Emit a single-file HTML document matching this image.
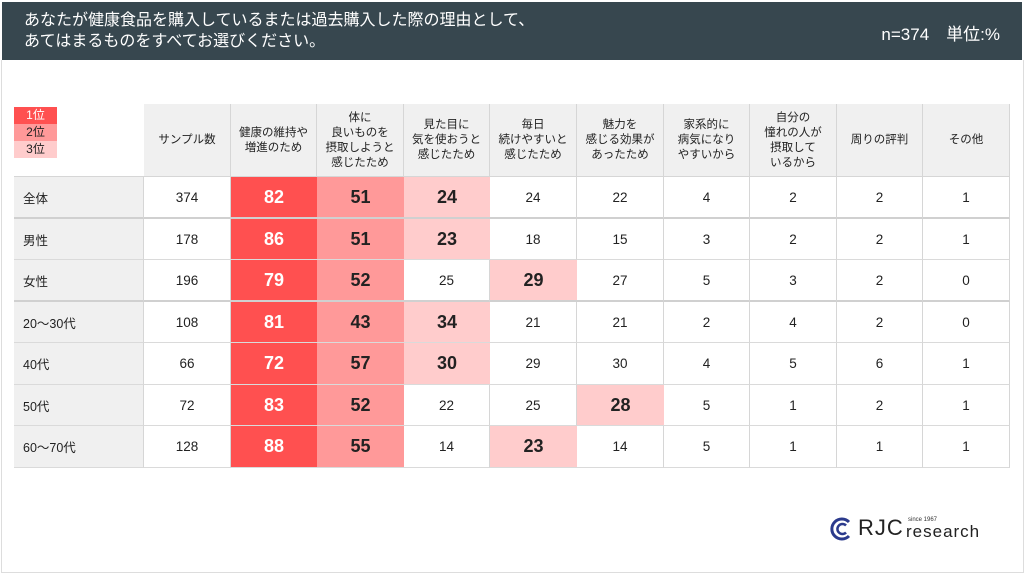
<!DOCTYPE html>
<html><head><meta charset="utf-8">
<style>
body{margin:0;width:1024px;height:574px;background:#fff;position:relative;overflow:hidden;font-family:"Liberation Sans","Noto Sans CJK JP",sans-serif;}
#hdr{position:absolute;left:2px;top:2px;width:1020px;height:58px;background:#37474f;color:#fff;}
#title{position:absolute;left:22px;top:8px;font-size:16px;line-height:21px;}
#n{position:absolute;right:22px;top:18px;font-size:17px;}
.c{position:absolute;display:flex;align-items:center;justify-content:center;text-align:center;box-sizing:border-box;color:#222;border-bottom:1px solid #dadada;}
.h{background:#f0f0f0;font-size:11.5px;line-height:15px;border-right:1px solid #d6d6d6;border-bottom:none;}
.lab{background:#f0f0f0;justify-content:flex-start;padding-left:9px;font-size:12.5px;border-right:1px solid #d6d6d6;}
.v{font-size:13.5px;border-right:1px solid #d6d6d6;}
.lg{position:absolute;left:14px;width:43px;height:17px;font-size:12px;text-align:center;line-height:17px;color:#222;}
#frame{position:absolute;left:1px;top:60px;width:1021px;height:512px;border:1px solid #ddd;border-top:none;}
</style></head><body>
<div id="hdr">
<div id="title">あなたが健康食品を購入しているまたは過去購入した際の理由として、<br>あてはまるものをすべてお選びください。</div>
<div id="n">n=374　単位:%</div>
</div>
<div id="frame"></div>
<div class="lg" style="top:107px;background:#ff5050;color:#fff">1位</div>
<div class="lg" style="top:124px;background:#ff9999">2位</div>
<div class="lg" style="top:141px;background:#ffcccc">3位</div>
<div id="tbl"></div>
<div style="position:absolute;left:830px;top:514px;width:150px;height:30px">
<svg width="24" height="24" viewBox="0 0 24 24" style="position:absolute;left:0;top:3px"><path d="M19 5 A10 10 0 1 0 19 19" fill="none" stroke="#2b3a8c" stroke-width="3"/><path d="M16 8.5 A5 5 0 1 0 16 15.5" fill="none" stroke="#2b3a8c" stroke-width="2.5"/></svg>
<span style="position:absolute;left:28px;top:1px;font-size:22px;color:#222;letter-spacing:1px">RJC</span>
<span style="position:absolute;left:78px;top:3px;font-size:6px;color:#333">since 1967</span>
<span style="position:absolute;left:76px;top:8px;font-size:17px;color:#222;letter-spacing:1px">research</span>
</div>
<script>
const headers=["サンプル数","健康の維持や<br>増進のため","体に<br>良いものを<br>摂取しようと<br>感じたため","見た目に<br>気を使おうと<br>感じたため","毎日<br>続けやすいと<br>感じたため","魅力を<br>感じる効果が<br>あったため","家系的に<br>病気になり<br>やすいから","自分の<br>憧れの人が<br>摂取して<br>いるから","周りの評判","その他"];
const rows=["全体","男性","女性","20～30代","40代","50代","60～70代"];
const samples=[374,178,196,108,66,72,128];
const values=[
[82,51,24,24,22,4,2,2,1],
[86,51,23,18,15,3,2,2,1],
[79,52,25,29,27,5,3,2,0],
[81,43,34,21,21,2,4,2,0],
[72,57,30,29,30,4,5,6,1],
[83,52,22,25,28,5,1,2,1],
[88,55,14,23,14,5,1,1,1]];
const rankColors=["#ff5050","#ff9999","#ffcccc"];
const tbl=document.getElementById('tbl');
const x0=144,cw=86.6,hy=104,hh=73,ry=177,rh=41.5,lx=14;
function cell(cls,x,y,w,h,html,name){const d=document.createElement('div');d.className='c '+cls;d.style.left=x+'px';d.style.top=y+'px';d.style.width=w+'px';d.style.height=h+'px';d.innerHTML=html;


tbl.appendChild(d);return d;}
headers.forEach((t,i)=>cell('h',Math.round(x0+i*cw),hy,Math.round(x0+(i+1)*cw)-Math.round(x0+i*cw),hh,t,'column-header'));
rows.forEach((r,ri)=>{
 const y=Math.round(ry+ri*rh), h=Math.round(ry+(ri+1)*rh)-y;
 const thick=(ri===0||ri===2);
 const cells=[];
 cells.push(cell('lab',lx,y,x0-lx,h,r,'row-label'));
 cells.push(cell('v',x0,y,Math.round(x0+cw)-x0,h,samples[ri],'sample-count-cell'));
 const vals=values[ri];
 const idx=vals.map((v,i)=>i).sort((a,b)=>vals[b]-vals[a]||a-b).slice(0,3);
 vals.forEach((v,ci)=>{
  const xa=Math.round(x0+(ci+1)*cw), xb=Math.round(x0+(ci+2)*cw);
  const d=cell('v',xa,y,xb-xa,h,v,'value-cell');
  cells.push(d);
  const rk=idx.indexOf(ci);
  if(rk>=0){d.style.background=rankColors[rk];d.style.fontSize='18px';d.style.fontWeight='600';d.style.borderRight='none';if(rk===0)d.style.color='#fff';}
 });
 if(thick) cells.forEach(c=>c.style.borderBottom='2px solid #d0d0d0');
});
const tblTop=document.createElement('div');


tblTop.style.cssText='position:absolute;left:'+lx+'px;top:'+(ry-1)+'px;width:'+(Math.round(x0+10*cw)-lx)+'px;height:1px;background:#d6d6d6';
tbl.appendChild(tblTop);
</script>
</body></html>
